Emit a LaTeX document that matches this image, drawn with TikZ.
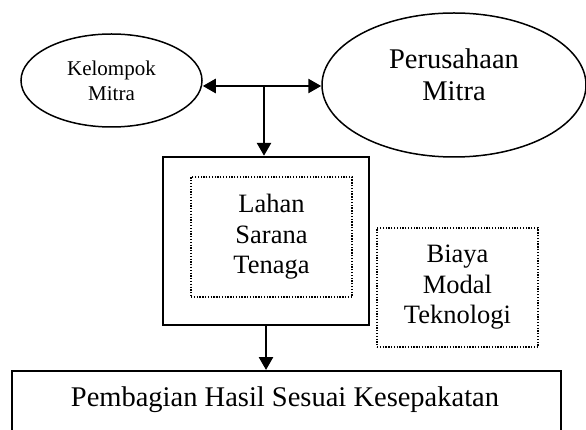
\documentclass[tikz,border=0pt]{standalone}
\usepackage{fontspec}
\setmainfont{Liberation Serif}
\usetikzlibrary{shapes.geometric,arrows.meta}
\begin{document}
\begin{tikzpicture}[x=1pt,y=-1pt,
  ell/.style={draw, ellipse, line width=1.5pt, inner sep=0pt},
  solidbox/.style={draw, rectangle, inner sep=0pt},
  dotbox/.style={draw, rectangle, line width=1.3pt, dash pattern=on 1.3pt off 1.5pt, inner sep=0pt, align=center,
    font=\fontsize{26.5}{30.5}\selectfont},
  tip/.tip={Triangle[length=13pt,width=14pt]},
  conn/.style={line width=2.6pt, -tip},
  conn2/.style={line width=2.6pt, tip-tip}
]
\useasboundingbox (0,0) rectangle (586,430);
\clip (0,0) rectangle (586,430);

% ellipses
\node[ell, minimum width=181pt, minimum height=93pt, align=center,
      font=\fontsize{21}{25}\selectfont] (kel) at (111.5,80.5) {Kelompok\\Mitra};
\node[ell, minimum width=264pt, minimum height=144pt] (per) at (454,85) {};
\node[align=center, inner sep=0pt, font=\fontsize{28.5}{32}\selectfont] (pertxt) at (454,74.5) {Perusahaan\\Mitra};

% central boxes
\node[solidbox, line width=2.4pt, minimum width=206pt, minimum height=168pt] (outer) at (266,241) {};
\node[dotbox, minimum width=161pt, minimum height=120pt] (lahan) at (271.5,237) {Lahan\\Sarana\\Tenaga};
\node[dotbox, minimum width=161pt, minimum height=119pt] (biaya) at (457.5,287.5) {Biaya\\Modal\\Teknologi};

% bottom box (open at the bottom edge of the picture)
\node[solidbox, line width=2pt, minimum width=549pt, minimum height=100pt, anchor=north] (bot) at (286.5,370) {};
\node[anchor=base, inner sep=0pt, font=\fontsize{28.5}{32}\selectfont] (bottxt) at (285,406) {Pembagian Hasil Sesuai Kesepakatan};

% connectors
\coordinate (j) at (264,86);
\draw[conn2] (j -| kel.east) -- (j -| per.west);
\draw[conn] (j) -- (j |- outer.north);
\draw[conn] (outer.south) -- (outer.south |- bot.north);
\end{tikzpicture}
\end{document}
